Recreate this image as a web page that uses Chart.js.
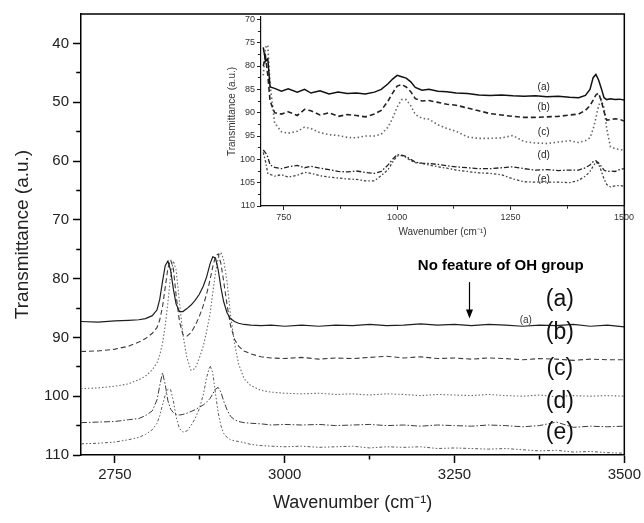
<!DOCTYPE html>
<html><head><meta charset="utf-8">
<script src="https://cdn.jsdelivr.net/npm/chart.js@4.4.1/dist/chart.umd.min.js"></script>
<style>
html,body{margin:0;padding:0;background:#fff;}
#wrap{position:relative;width:644px;height:523px;overflow:hidden;background:#fff;}
#main{position:absolute;left:0;top:0;}
#inset{position:absolute;left:205px;top:0;}
</style></head><body>
<div id="wrap"><canvas id="main" width="644" height="523"></canvas><canvas id="inset" width="439" height="250"></canvas></div>
<script>
// ---------------- DATA ----------------
const mainWavenumber = [2700,2725,2750,2770,2785,2795,2805,2812,2816,2820,2824,2828,2832,2836,2840,2845,2850,2856,2862,2868,2874,2880,2885,2890,2894,2898,2902,2906,2910,2915,2920,2926,2932,2940,2950,2965,2980,3000,3025,3050,3075,3100,3125,3150,3175,3200,3225,3250,3275,3300,3325,3350,3375,3400,3425,3450,3475,3500];
const mainA = [87.3,87.4,87.2,87.1,87.0,86.8,86.3,85.3,83.5,80.5,77.8,77.0,78.6,81.8,84.3,85.6,85.6,85.1,84.5,83.7,82.7,81.3,79.7,77.5,76.3,76.5,78.5,81.5,83.9,85.8,86.8,87.3,87.6,87.8,87.9,88.0,87.9,88.1,87.9,88.1,87.9,88.0,87.8,88.0,87.9,87.7,87.9,87.8,88.0,87.8,87.9,88.1,87.9,88.0,87.8,88.1,87.9,88.2];
const mainB = [92.4,92.3,92.0,91.5,90.8,90.2,89.3,88.3,87.0,84.8,81.5,78.2,76.8,78.3,82.8,87.3,89.5,89.8,89.2,88.0,86.5,84.6,82.6,80.2,78.0,76.2,75.8,77.4,80.4,84.4,87.9,90.3,91.5,92.3,92.8,93.3,93.5,93.6,93.4,93.7,93.5,93.6,93.4,93.2,93.5,93.3,93.6,93.5,93.7,93.5,93.6,93.8,93.6,93.7,93.9,93.7,93.8,93.8];
const mainC = [98.7,98.6,98.3,97.9,97.2,96.6,95.5,94.3,93.0,91.0,88.0,84.0,79.5,77.0,78.5,84.0,89.5,93.5,95.6,95.3,93.6,91.5,89.0,86.0,82.5,79.0,76.5,75.5,76.8,80.5,86.0,91.0,94.5,97.0,98.2,99.0,99.3,99.5,99.6,99.5,99.7,99.6,99.8,99.6,99.7,99.9,99.7,99.8,99.9,99.7,99.9,100.0,99.8,100.1,99.9,100.0,99.9,100.0];
const mainD = [104.5,104.4,104.3,104.0,103.8,103.3,102.5,100.6,98.2,96.0,98.0,100.8,102.2,102.8,103.1,103.2,103.1,102.9,102.6,102.3,101.9,101.5,101.0,100.4,99.6,98.8,98.5,99.3,100.8,102.3,103.4,104.0,104.3,104.5,104.6,104.7,104.9,104.8,104.9,104.8,105.0,104.9,104.8,105.0,104.9,105.1,104.9,105.0,105.1,104.9,105.0,105.2,105.0,104.4,105.3,105.1,105.2,105.1];
const mainE = [108.1,108.0,107.8,107.4,107.0,106.5,105.7,104.6,103.3,101.5,99.8,98.8,98.9,100.8,103.5,105.5,106.1,105.9,105.0,103.8,102.2,99.8,96.8,94.8,96.0,99.5,102.8,105.0,106.3,107.0,107.4,107.6,107.7,107.9,108.2,108.4,108.5,108.6,108.5,108.7,108.6,108.5,108.8,108.6,108.7,108.6,108.9,108.8,108.9,109.0,108.9,109.1,109.3,109.2,109.5,109.4,109.6,109.7];

const insetWavenumber = [705,710,715,720,730,745,760,780,796,810,830,850,870,890,910,930,950,965,980,990,1000,1010,1020,1030,1040,1055,1070,1090,1110,1130,1155,1180,1205,1230,1255,1280,1305,1330,1355,1380,1400,1415,1425,1432,1438,1444,1450,1456,1462,1470,1480,1490,1500];
const insetA = [76.0,79.0,78.5,84.5,84.8,85.4,84.9,85.6,85.0,85.8,85.3,86.0,85.6,85.9,85.8,86.0,85.6,85.0,83.8,82.8,82.0,82.3,82.6,83.4,84.6,85.2,85.0,85.4,85.5,85.8,85.9,86.2,86.3,86.2,86.4,86.5,86.4,86.6,86.5,86.7,86.8,86.3,85.0,82.5,81.8,83.0,84.8,86.8,87.2,87.0,87.2,87.1,87.3];
const insetB = [80.0,78.0,82.0,87.5,90.0,90.3,89.8,90.6,89.3,89.6,90.5,90.0,90.8,90.4,90.6,90.9,90.3,89.5,87.5,85.8,84.3,84.0,84.5,85.5,87.0,87.5,87.4,87.8,88.2,88.4,89.0,89.6,90.2,90.5,90.8,91.0,91.0,90.9,90.8,90.5,90.3,89.5,88.5,87.3,86.2,85.8,87.5,89.8,91.6,91.5,91.3,91.4,91.8];
const insetC = [82.0,76.0,75.5,84.0,92.2,94.1,94.4,94.0,93.1,93.4,94.3,94.7,94.9,95.3,95.4,95.0,95.0,94.6,93.1,91.2,88.8,87.2,87.2,88.5,90.4,91.2,91.4,92.6,93.4,94.0,95.2,95.5,95.5,95.4,94.9,96.2,96.5,96.6,96.3,96.0,96.4,96.0,95.4,93.5,91.2,88.5,87.3,89.0,93.5,97.3,97.7,97.9,98.0];
const insetD = [98.0,98.6,99.5,101.2,101.7,102.0,101.6,101.3,101.8,101.5,101.9,102.2,102.6,102.7,102.5,102.8,103.0,102.6,101.2,100.0,99.0,99.1,99.4,100.0,100.6,100.8,100.9,101.1,101.4,101.6,101.8,102.0,102.0,101.8,101.6,102.0,102.3,102.2,102.4,102.3,102.3,101.8,101.2,100.5,100.3,100.8,101.5,102.3,102.6,102.5,102.6,102.2,102.0];
const insetE = [98.5,100.5,103.0,103.2,103.6,103.3,103.8,103.4,102.8,103.0,103.5,103.8,104.0,104.2,104.3,104.6,104.6,103.5,102.2,100.6,99.3,99.2,99.6,100.3,100.7,100.9,101.2,101.6,101.9,102.3,102.6,102.9,103.0,103.3,104.2,104.8,104.9,104.9,104.9,105.0,104.5,103.6,102.6,101.5,100.6,101.0,102.5,104.2,105.4,105.9,105.7,105.6,105.8];

const seriesLabels = ['(a)','(b)','(c)','(d)','(e)'];
const mainXTicks = [2750,2875,3000,3125,3250,3375,3500];
const mainXLabels = [2750,3000,3250,3500];
const mainYTicks = [40,45,50,55,60,65,70,75,80,85,90,95,100,105,110];
const mainYLabels = [40,50,60,70,80,90,100,110];
const insetXTicks = [750,875,1000,1125,1250,1375,1500];
const insetXLabels = [750,1000,1250,1500];
const insetYTicks = [70,72.5,75,77.5,80,82.5,85,87.5,90,92.5,95,97.5,100,102.5,105,107.5,110];
const insetYLabels = [70,75,80,85,90,95,100,105,110];

// annotation anchors (data space)
const mainLabelX = 3405;
const mainLabelY = [83.6, 89.2, 95.3, 100.9, 106.2];
const smallLabel = {text:'(a)', x:3355, y:87.1};
const noteText = {text:'No feature of OH group', x:3196, y:77.9};
const arrowAt = {x:3272, y1:80.6, y2:86.8};
const insetLabelX = 1323;
const insetLabelY = [84.5, 88.8, 94.2, 99.1, 104.2];

// ---------------- STYLE ----------------
const mainStyles = [
  {color:'#1e1e1e', dash:[], width:1.2},
  {color:'#3c3c3c', dash:[5,3], width:1.1},
  {color:'#6a6a6a', dash:[1.5,2], width:1.1},
  {color:'#3c3c3c', dash:[6,2,1.5,2], width:1.0},
  {color:'#5a5a5a', dash:[3,2,1.5,2,1.5,2], width:1.0}
];
const insetStyles = [
  {color:'#111', dash:[], width:1.5},
  {color:'#222', dash:[5,3], width:1.6},
  {color:'#666', dash:[1.5,2.5], width:1.6},
  {color:'#222', dash:[5,2,1.5,2], width:1.3},
  {color:'#444', dash:[2.5,2,1.5,2], width:1.3}
];
const FONT = '"Liberation Sans", Arial, sans-serif';

function mkDatasets(xs, ys, styles){
  return ys.map((arr,i)=>({
    label: seriesLabels[i],
    data: xs.map((w,k)=>({x:w, y:arr[k]})),
    borderColor: styles[i].color,
    borderDash: styles[i].dash,
    borderWidth: styles[i].width,
    pointRadius: 0,
    fill: false,
    tension: 0
  }));
}

function minorDash(majors, len, pos){
  return (ctx)=>{
    const v = ctx.tick ? ctx.tick.value : null;
    if (v === null || majors.includes(v)) return [];
    return pos === 'left' ? [0, len.total - len.minor, len.minor, 50] : [len.minor, 50];
  };
}

const framePlugin = {
  id:'frame',
  afterDraw(chart){
    if (!chart.options.plugins.frame || !chart.options.plugins.frame.on) return;
    const {ctx, chartArea:{left,top,right,bottom}} = chart;
    ctx.save();
    ctx.strokeStyle = '#000'; ctx.lineWidth = 1.5;
    ctx.beginPath(); ctx.moveTo(left, top); ctx.lineTo(right, top); ctx.lineTo(right, bottom); ctx.stroke();
    ctx.restore();
  }
};

const mainNotes = {
  id:'mainNotes',
  afterDatasetsDraw(chart){
    const {ctx} = chart; const sx = chart.scales.x, sy = chart.scales.y;
    ctx.save();
    ctx.fillStyle = '#111';
    ctx.textAlign = 'center'; ctx.textBaseline = 'middle';
    ctx.font = '23px ' + FONT;
    seriesLabels.forEach((t,i)=> ctx.fillText(t, sx.getPixelForValue(mainLabelX), sy.getPixelForValue(mainLabelY[i])));
    ctx.font = '10px ' + FONT; ctx.fillStyle = '#333';
    ctx.fillText(smallLabel.text, sx.getPixelForValue(smallLabel.x), sy.getPixelForValue(smallLabel.y));
    ctx.font = 'bold 15px ' + FONT; ctx.fillStyle = '#000'; ctx.textAlign = 'left';
    ctx.fillText(noteText.text, sx.getPixelForValue(noteText.x), sy.getPixelForValue(noteText.y));
    const ax = Math.round(sx.getPixelForValue(arrowAt.x)) + 0.5;
    const ay1 = sy.getPixelForValue(arrowAt.y1), ay2 = sy.getPixelForValue(arrowAt.y2);
    ctx.strokeStyle = '#000'; ctx.lineWidth = 1.2;
    ctx.beginPath(); ctx.moveTo(ax, ay1); ctx.lineTo(ax, ay2 - 6); ctx.stroke();
    ctx.beginPath(); ctx.moveTo(ax - 3.5, ay2 - 9); ctx.lineTo(ax + 3.5, ay2 - 9); ctx.lineTo(ax, ay2); ctx.closePath(); ctx.fill();
    ctx.restore();
  }
};

const insetNotes = {
  id:'insetNotes',
  afterDatasetsDraw(chart){
    const {ctx} = chart; const sx = chart.scales.x, sy = chart.scales.y;
    ctx.save();
    ctx.fillStyle = '#222'; ctx.textAlign = 'center'; ctx.textBaseline = 'middle';
    ctx.font = '10px ' + FONT;
    seriesLabels.forEach((t,i)=> ctx.fillText(t, sx.getPixelForValue(insetLabelX), sy.getPixelForValue(insetLabelY[i])));
    ctx.restore();
  }
};

Chart.register(framePlugin);

// ---------------- MAIN CHART ----------------
new Chart(document.getElementById('main'), {
  type:'line',
  data:{ datasets: mkDatasets(mainWavenumber, [mainA,mainB,mainC,mainD,mainE], mainStyles) },
  options:{
    responsive:false, animation:false, devicePixelRatio:1,
    layout:{padding:{left:0, top:14, right:19, bottom:0}},
    plugins:{legend:{display:false}, tooltip:{enabled:false}, frame:{on:true}},
    scales:{
      x:{
        type:'linear', min:2700, max:3500,
        afterBuildTicks:(s)=>{ s.ticks = mainXTicks.map(v=>({value:v})); },
        afterFit:(s)=>{ s.height = 68; },
        ticks:{ autoSkip:false, maxRotation:0, padding:3, color:'#222',
          font:{family:FONT, size:15},
          callback:(v)=> mainXLabels.includes(v) ? String(v) : '' },
        grid:{ drawOnChartArea:false, drawTicks:true, tickLength:8, tickWidth:1.5, tickColor:'#000',
          tickBorderDash: minorDash(mainXLabels, {total:8, minor:4}, 'bottom') },
        border:{display:true, color:'#000', width:1.5},
        title:{display:true, text:'Wavenumber (cm\u207B\u00B9)', color:'#222',
          font:{family:FONT, size:18}, padding:{top:0, bottom:9}}
      },
      y:{
        type:'linear', reverse:true, min:35, max:110,
        afterBuildTicks:(s)=>{ s.ticks = mainYTicks.map(v=>({value:v})); },
        afterFit:(s)=>{ s.width = 81; },
        ticks:{ autoSkip:false, padding:4, color:'#222',
          font:{family:FONT, size:15},
          callback:(v)=> mainYLabels.includes(v) ? String(v) : '' },
        grid:{ drawOnChartArea:false, drawTicks:true, tickLength:8, tickWidth:1.5, tickColor:'#000',
          tickBorderDash: minorDash(mainYLabels, {total:7.25, minor:4}, 'left') },
        border:{display:true, color:'#000', width:1.5},
        title:{display:true, text:'Transmittance (a.u.)', color:'#222',
          font:{family:FONT, size:19}, padding:{top:11, bottom:0}}
      }
    }
  },
  plugins:[mainNotes]
});

// ---------------- INSET CHART ----------------
new Chart(document.getElementById('inset'), {
  type:'line',
  data:{ datasets: mkDatasets(insetWavenumber, [insetA,insetB,insetC,insetD,insetE], insetStyles) },
  options:{
    responsive:false, animation:false, devicePixelRatio:1,
    layout:{padding:{left:0, top:17, right:20, bottom:0}},
    plugins:{legend:{display:false}, tooltip:{enabled:false}, frame:{on:false}},
    scales:{
      x:{
        type:'linear', min:700, max:1500,
        afterBuildTicks:(s)=>{ s.ticks = insetXTicks.map(v=>({value:v})); },
        afterFit:(s)=>{ s.height = 44; },
        ticks:{ autoSkip:false, maxRotation:0, padding:2, color:'#333',
          font:{family:FONT, size:9},
          callback:(v)=> insetXLabels.includes(v) ? String(v) : '' },
        grid:{ drawOnChartArea:false, drawTicks:true, tickLength:4, tickWidth:1, tickColor:'#222',
          tickBorderDash: minorDash(insetXLabels, {total:4, minor:2.5}, 'bottom') },
        border:{display:true, color:'#111', width:1.2},
        title:{display:true, text:'Wavenumber (cm\u207B\u00B9)', color:'#333',
          font:{family:FONT, size:10}, padding:{top:0, bottom:12}}
      },
      y:{
        type:'linear', reverse:true, min:69.5, max:110,
        afterBuildTicks:(s)=>{ s.ticks = insetYTicks.map(v=>({value:v})); },
        afterFit:(s)=>{ s.width = 56; },
        ticks:{ autoSkip:false, padding:2, color:'#333',
          font:{family:FONT, size:9},
          callback:(v)=> insetYLabels.includes(v) ? String(v) : '' },
        grid:{ drawOnChartArea:false, drawTicks:true, tickLength:4, tickWidth:1, tickColor:'#222',
          tickBorderDash: minorDash(insetYLabels, {total:3.4, minor:2.5}, 'left') },
        border:{display:true, color:'#111', width:1.2},
        title:{display:true, text:'Transmittance (a.u.)', color:'#333',
          font:{family:FONT, size:10}, padding:{top:21, bottom:0}}
      }
    }
  },
  plugins:[insetNotes]
});
</script>
</body></html>
